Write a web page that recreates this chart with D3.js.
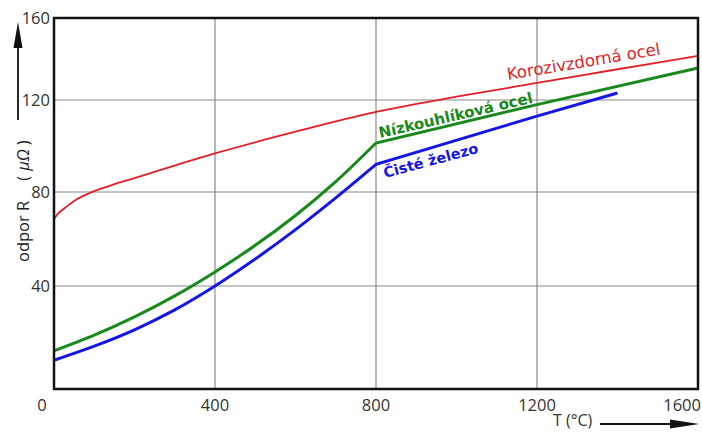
<!DOCTYPE html>
<html><head><meta charset="utf-8">
<script src="https://cdn.jsdelivr.net/npm/d3@7"></script>
<style>body{margin:0;background:#fff}svg{display:block}</style>
</head><body>
<svg id="c" width="702" height="432"></svg>
<script>
// ---- data ----
const xTicks = [0, 400, 800, 1200, 1600];
const yTicks = [40, 80, 120, 160];
// Korozivzdorná ocel (smooth over whole range)
const redT = [0, 10, 30, 60, 100, 150, 200, 300, 400, 600, 800, 1000, 1200, 1400, 1600];
const redV = [68.5, 70.8, 73.6, 77.2, 80.4, 83.4, 86, 91.5, 96.8, 106.2, 114.8, 121.6, 128.3, 135, 141.5];
// Nízkouhlíková ocel (curve to 800, then straight)
const greenT = [0, 100, 200, 300, 400, 500, 600, 700, 800, 1200, 1600];
const greenV = [12.3, 19, 26.8, 35.8, 46, 57.3, 70, 84.5, 101.3, 118, 135.6];
// Čisté železo
const blueT = [0, 100, 200, 300, 400, 500, 600, 700, 800, 1200, 1400];
const blueV = [8.3, 14.3, 21.3, 29.8, 40, 51.5, 64, 77.5, 92, 113, 123.4];
const kinkT = 800;
const labels = ["Korozivzdorná ocel", "Nízkouhlíková ocel", "Čisté železo"];

// ---- drawing ----
const svg = d3.select("#c");
const x = d3.scaleLinear().domain([0, 1600]).range([54, 698]);
const y = d3.scaleLinear().domain([-4, 40, 80, 120, 160]).range([389, 286, 192, 100, 18]);
const pLeft = x.range()[0], pRight = x.range()[1];
const pTop = y(160), pBottom = y(-4);

// grid
const g = svg.append("g");
g.selectAll("line.vx").data(xTicks.slice(1, -1)).join("line")
  .attr("x1", d => x(d)).attr("x2", d => x(d)).attr("y1", pTop).attr("y2", pBottom)
  .attr("stroke", "#8a8a8a").attr("stroke-width", 1.2);
g.selectAll("line.hy").data(yTicks.slice(0, -1)).join("line")
  .attr("x1", pLeft).attr("x2", pRight).attr("y1", d => y(d)).attr("y2", d => y(d))
  .attr("stroke", "#8a8a8a").attr("stroke-width", 1.2);

// series
function drawSeries(T, V, color, width, kink) {
  const pts = T.map((t, i) => [t, V[i]]);
  const lineSmooth = d3.line().x(d => x(d[0])).y(d => y(d[1])).curve(d3.curveCatmullRom.alpha(0.5));
  if (kink == null) {
    svg.append("path").attr("d", lineSmooth(pts)).attr("fill", "none")
      .attr("stroke", color).attr("stroke-width", width);
  } else {
    const a = pts.filter(p => p[0] <= kink), b = pts.filter(p => p[0] >= kink);
    const lin = d3.line().x(d => x(d[0])).y(d => y(d[1]));
    svg.append("path").attr("d", lineSmooth(a) + lin(b).replace(/^M/, "L"))
      .attr("fill", "none").attr("stroke", color).attr("stroke-width", width)
      .attr("stroke-linejoin", "miter");
  }
}
drawSeries(redT, redV, "#e41e26", 1.8, null);
drawSeries(greenT, greenV, "#188a1c", 3, kinkT);
drawSeries(blueT, blueV, "#1515e6", 3, kinkT);

// frame
svg.append("rect").attr("x", pLeft).attr("y", pTop).attr("width", pRight - pLeft).attr("height", pBottom - pTop)
  .attr("fill", "none").attr("stroke", "#111").attr("stroke-width", 2.5);

// tick labels
const tf = "'Open Sans', sans-serif";
svg.selectAll("text.yt").data(yTicks).join("text")
  .attr("x", 50).attr("y", d => y(d) + 6).attr("text-anchor", "end")
  .attr("font-family", tf).attr("font-size", 16.5).attr("fill", "#333").text(d => d);
svg.selectAll("text.xt").data(xTicks).join("text")
  .attr("x", d => d === 0 ? x(d) - 12 : d === 1600 ? 701 : x(d))
  .attr("y", 411)
  .attr("text-anchor", d => d === 1600 ? "end" : "middle")
  .attr("font-family", tf).attr("font-size", 16.5).attr("fill", "#333").text(d => d);

// series labels
const lf = "'DejaVu Sans', sans-serif";
svg.append("text").attr("transform", "translate(508,80) rotate(-9.5)")
  .attr("font-family", lf).attr("font-size", 16.5).attr("fill", "#e41e26").text(labels[0]);
svg.append("text").attr("transform", "translate(380,138) rotate(-13)")
  .attr("font-family", lf).attr("font-weight", "bold").attr("font-size", 15).attr("fill", "#188a1c").text(labels[1]);
svg.append("text").attr("transform", "translate(385,178) rotate(-15)")
  .attr("font-family", lf).attr("font-weight", "bold").attr("font-size", 14.5).attr("fill", "#1515e6").text(labels[2]);

// y axis title + arrow
const yl = svg.append("text").attr("transform", "translate(29,262) rotate(-90)")
  .attr("font-family", tf).attr("font-size", 16.5).attr("fill", "#222");
yl.append("tspan").text("odpor R");
yl.append("tspan").attr("dx", 20).text("(");
yl.append("tspan").attr("dx", 5).attr("font-style", "italic").text("μΩ");
yl.append("tspan").attr("dx", 4).text(")");
svg.append("line").attr("x1", 18).attr("x2", 18).attr("y1", 120).attr("y2", 40)
  .attr("stroke", "#111").attr("stroke-width", 1.8);
svg.append("path").attr("d", "M18,22 L22.5,48 L13.5,48 Z").attr("fill", "#111");

// x axis title + arrow
svg.append("text").attr("x", 553).attr("y", 426).attr("font-family", tf).attr("font-size", 16)
  .attr("fill", "#333").text("T (°C)");
svg.append("line").attr("x1", 600).attr("x2", 680).attr("y1", 424).attr("y2", 424)
  .attr("stroke", "#111").attr("stroke-width", 1.8);
svg.append("path").attr("d", "M699,424 L670,419.5 L670,428.5 Z").attr("fill", "#111");
</script>
</body></html>
